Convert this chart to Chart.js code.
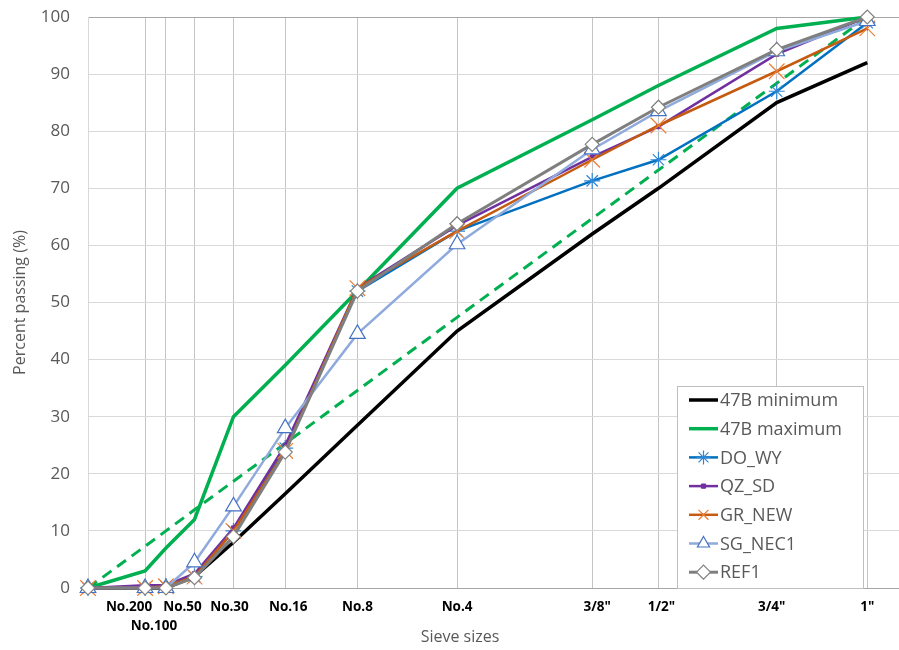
<!DOCTYPE html>
<html>
<head>
<meta charset="utf-8">
<script src="https://cdn.jsdelivr.net/npm/chart.js@4/dist/chart.umd.min.js"></script>
<style>
  html, body { margin: 0; padding: 0; background: #fff; overflow: hidden; }
  canvas { display: block; }
</style>
</head>
<body>
<canvas id="gradation" width="899" height="650"></canvas>
<script>
/* ── Sieves (x axis is size^0.45) ── */
const sieveNames = ['', 'No.200', 'No.100', 'No.50', 'No.30', 'No.16', 'No.8', 'No.4', '3/8"', '1/2"', '3/4"', '1"'];
const sieveMm    = [0, 0.075, 0.15, 0.3, 0.6, 1.18, 2.36, 4.75, 9.5, 12.5, 19, 25];
const POWER = 0.45;

/* ── Percent passing per sieve ── */
const min47B     = [0, 0, 0, 2, 8, 16.5, 28.5, 45, 62, 70, 85, 92];
const max47B     = [0, 3, 7, 12, 30, 39, 52, 70, 82, 88, 98, 100];
const maxDensity = [0, 7.3, 10, 13.7, 18.7, 25.3, 34.6, 47.4, 64.7, 73.2, 88.4, 100];
const doWy       = [0, 0, 0.3, 2, 10, 24.5, 52, 62.5, 71.3, 75, 87, 99];
const qzSd       = [0, 0.5, 0.5, 2.5, 10.5, 25, 52.5, 63.5, 75.5, 80.8, 93.5, 100];
const grNew      = [0, 0, 0.3, 2, 10, 24, 52.5, 62.5, 75, 81, 90.5, 98];
const sgNec1     = [0, 0, 0, 4.5, 14.3, 28, 44.5, 60.2, 76.8, 83.5, 94, 99.3];
const ref1       = [0, 0, 0, 1.8, 9, 23.8, 52, 63.8, 77.7, 84.2, 94.3, 100];

// tick label placement: horizontal nudge (px) and which row it sits on
const labelShift = [0, -16, -12, -12, -4, 3, 0, 0, 5, 3, -5, 0];
const labelRow   = [0, 0, 1, 0, 0, 0, 0, 0, 0, 0, 0, 0];

const xPos = sieveMm.map(d => Math.pow(d, POWER));
const pts = arr => arr.map((v, i) => ({ x: xPos[i], y: v }));

const FONT = '"Open Sans", "Noto Sans", sans-serif';
const GREY_TEXT = '#595959';

const series = [
  { label: '47B minimum', data: pts(min47B), borderColor: '#000000', borderWidth: 3.5, pointRadius: 0 },
  { label: '47B maximum', data: pts(max47B), borderColor: '#00B050', borderWidth: 3.5, pointRadius: 0 },
  { label: 'Max density', data: pts(maxDensity), borderColor: '#00B050', borderWidth: 3, borderDash: [11, 7], pointRadius: 0, noLegend: true },
  { label: 'DO_WY', data: pts(doWy), borderColor: '#0070C0', borderWidth: 2.5,
    pointStyle: 'star', pointRadius: 8, pointBorderColor: '#2E86D6', pointBorderWidth: 1.2 },
  { label: 'QZ_SD', data: pts(qzSd), borderColor: '#7030A0', borderWidth: 2.5,
    pointStyle: 'rect', pointRadius: 3, pointBorderColor: '#7030A0', pointBackgroundColor: '#7030A0', pointBorderWidth: 1 },
  { label: 'GR_NEW', data: pts(grNew), borderColor: '#C55A11', borderWidth: 2.5,
    pointStyle: 'crossRot', pointRadius: 11, pointBorderColor: '#ED7D31', pointBorderWidth: 1.2 },
  { label: 'SG_NEC1', data: pts(sgNec1), borderColor: '#8FAADC', borderWidth: 2.5,
    pointStyle: 'triangle', pointRadius: 9, pointBorderColor: '#4472C4', pointBackgroundColor: '#ffffff', pointBorderWidth: 1.2 },
  { label: 'REF1', data: pts(ref1), borderColor: '#7F7F7F', borderWidth: 3,
    pointStyle: 'rectRot', pointRadius: 7, pointBorderColor: '#808080', pointBackgroundColor: '#ffffff', pointBorderWidth: 1.2 },
];

// later series sit on top of earlier ones; markers may spill past the axes
const datasets = series.map((s, i) => Object.assign({
  tension: 0,
  fill: false,
  clip: false,
  pointHoverRadius: 0,
  order: series.length - i,
}, s));

/* ── Sieve labels, x title and the boxed legend ── */
const decorations = {
  id: 'decorations',
  afterDraw(chart) {
    const ctx = chart.ctx;
    const area = chart.chartArea;
    const xs = chart.scales.x;

    ctx.save();

    // sieve names under the axis
    ctx.font = 'bold 13.5px ' + FONT;
    ctx.fillStyle = '#000000';
    ctx.textAlign = 'center';
    ctx.textBaseline = 'middle';
    sieveNames.forEach((name, i) => {
      if (!name) return;
      const x = xs.getPixelForValue(xPos[i]) + labelShift[i];
      const y = area.bottom + 19 + labelRow[i] * 19;
      ctx.fillText(name, x, y);
    });

    // x axis title
    ctx.font = '16px ' + FONT;
    ctx.fillStyle = GREY_TEXT;
    ctx.fillText('Sieve sizes', area.left + 372, area.bottom + 49);

    // legend box
    const items = chart.data.datasets.filter(d => !d.noLegend);
    const boxX = area.left + 589, boxY = area.top + 369;
    const boxW = 186, boxH = 202, rowH = 28.7;

    ctx.fillStyle = '#ffffff';
    ctx.strokeStyle = '#BFBFBF';
    ctx.lineWidth = 1;
    ctx.fillRect(boxX, boxY, boxW, boxH);
    ctx.strokeRect(boxX + 0.5, boxY + 0.5, boxW, boxH);

    ctx.font = '18px ' + FONT;
    ctx.textAlign = 'left';
    items.forEach((d, i) => {
      const y = boxY + 14 + i * rowH;
      const x0 = boxX + 12, x1 = boxX + 41;
      ctx.strokeStyle = d.borderColor;
      ctx.lineWidth = d.borderWidth;
      ctx.setLineDash([]);
      ctx.beginPath();
      ctx.moveTo(x0, y);
      ctx.lineTo(x1, y);
      ctx.stroke();

      if (d.pointRadius > 0 && Chart.helpers && Chart.helpers.drawPoint) {
        ctx.strokeStyle = d.pointBorderColor;
        ctx.fillStyle = d.pointBackgroundColor || d.pointBorderColor;
        ctx.lineWidth = d.pointBorderWidth;
        Chart.helpers.drawPoint(ctx, {
          pointStyle: d.pointStyle,
          radius: Math.min(d.pointRadius, 7),
          rotation: 0,
          borderWidth: d.pointBorderWidth,
        }, (x0 + x1) / 2, y);
      }

      ctx.fillStyle = GREY_TEXT;
      ctx.fillText(d.label, x1 + 2, y + 1);
    });
    ctx.restore();
  },
};

new Chart(document.getElementById('gradation'), {
  type: 'line',
  data: { datasets },
  plugins: [decorations],
  options: {
    responsive: false,
    animation: false,
    layout: { autoPadding: false, padding: { top: 17, right: 0, left: 0, bottom: 0 } },
    plugins: {
      legend: { display: false },
      tooltip: { enabled: false },
    },
    scales: {
      x: {
        type: 'linear',
        min: 0,
        max: 4.43,
        afterBuildTicks: scale => {
          scale.ticks = xPos.map(v => ({ value: v }));
        },
        afterFit: scale => {
          scale.height = 62;
          scale.paddingLeft = 0;
          scale.paddingRight = 0;
        },
        ticks: { display: false, autoSkip: false },
        grid: {
          drawTicks: false,
          lineWidth: 1,
          color: ctx => (ctx.index === 0 ? '#D9D9D9' : '#C4C4C4'),
        },
        border: { display: true, color: '#A6A6A6', width: 1 },
      },
      y: {
        min: 0,
        max: 100,
        afterFit: scale => {
          scale.width = 88;
          scale.paddingTop = 0;
          scale.paddingBottom = 0;
        },
        ticks: {
          stepSize: 10,
          padding: 18,
          color: GREY_TEXT,
          font: { family: FONT, size: 17 },
        },
        grid: {
          drawTicks: false,
          lineWidth: 1,
          color: ctx => (ctx.tick && ctx.tick.value === 100 ? '#A6A6A6' : '#D9D9D9'),
        },
        border: { display: true, color: '#D9D9D9', width: 1 },
        title: {
          display: true,
          text: 'Percent passing (%)',
          color: GREY_TEXT,
          font: { family: FONT, size: 16 },
          padding: { top: 11, bottom: 0 },
        },
      },
    },
  },
});
</script>
</body>
</html>
